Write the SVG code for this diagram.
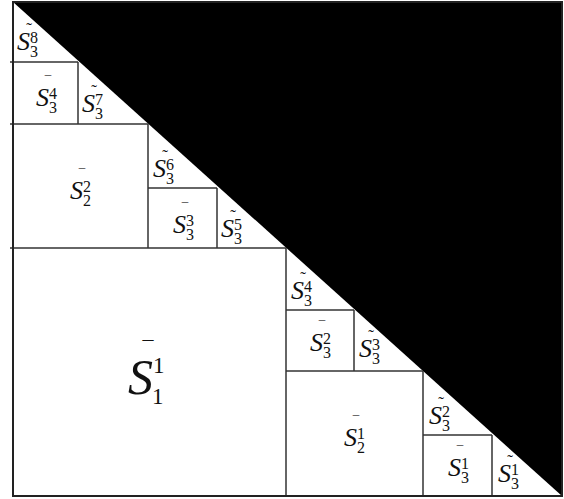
<svg xmlns="http://www.w3.org/2000/svg" width="564" height="499" viewBox="0 0 564 499">
<style>
.ln{stroke:#333;stroke-width:1.5;fill:none}
.lbl{font-family:"Liberation Serif","Times New Roman",serif;fill:#111}
.s{font-style:italic;font-size:26px}
.d{font-size:16px}
.t{font-size:17px;text-anchor:middle}
.b{font-size:13px;text-anchor:middle}
</style>
<rect width="564" height="499" fill="#fff"/>
<g id="black-triangle">
<polygon points="13,2 562,2 562,496" fill="#000"/>
</g>
<g id="connectors">
<line class="ln" x1="10" y1="62" x2="78" y2="62"/>
<line class="ln" x1="78" y1="62" x2="78" y2="124"/>
<line class="ln" x1="10" y1="124" x2="148" y2="124"/>
<line class="ln" x1="148" y1="124" x2="148" y2="248"/>
<line class="ln" x1="148" y1="188" x2="217" y2="188"/>
<line class="ln" x1="217" y1="188" x2="217" y2="248"/>
<line class="ln" x1="10" y1="248" x2="286" y2="248"/>
<line class="ln" x1="286" y1="248" x2="286" y2="496"/>
<line class="ln" x1="286" y1="310" x2="354" y2="310"/>
<line class="ln" x1="354" y1="310" x2="354" y2="371"/>
<line class="ln" x1="286" y1="371" x2="423" y2="371"/>
<line class="ln" x1="423" y1="371" x2="423" y2="496"/>
<line class="ln" x1="423" y1="435" x2="492" y2="435"/>
<line class="ln" x1="492" y1="435" x2="492" y2="496"/>
<rect x="13" y="2" width="549" height="494" fill="none" stroke="#222" stroke-width="2"/>
</g>
<g id="n-S3-8"><text class="lbl"><tspan class="t" x="29" y="34">˜</tspan><tspan class="s" x="17" y="50">S</tspan><tspan class="d" x="30" y="43">8</tspan><tspan class="d" x="30" y="57">3</tspan></text></g>
<g id="n-S3-4bar"><text class="lbl"><tspan class="b" x="48" y="85">¯</tspan><tspan class="s" x="36" y="106">S</tspan><tspan class="d" x="49" y="99">4</tspan><tspan class="d" x="49" y="113">3</tspan></text></g>
<g id="n-S3-7"><text class="lbl"><tspan class="t" x="94" y="96">˜</tspan><tspan class="s" x="82" y="112">S</tspan><tspan class="d" x="95" y="105">7</tspan><tspan class="d" x="95" y="119">3</tspan></text></g>
<g id="n-S2-2bar"><text class="lbl"><tspan class="b" x="82" y="178">¯</tspan><tspan class="s" x="70" y="199">S</tspan><tspan class="d" x="83" y="192">2</tspan><tspan class="d" x="83" y="206">2</tspan></text></g>
<g id="n-S3-6"><text class="lbl"><tspan class="t" x="165" y="161">˜</tspan><tspan class="s" x="153" y="177">S</tspan><tspan class="d" x="166" y="170">6</tspan><tspan class="d" x="166" y="184">3</tspan></text></g>
<g id="n-S3-3bar"><text class="lbl"><tspan class="b" x="185" y="212">¯</tspan><tspan class="s" x="173" y="233">S</tspan><tspan class="d" x="186" y="226">3</tspan><tspan class="d" x="186" y="240">3</tspan></text></g>
<g id="n-S3-5"><text class="lbl"><tspan class="t" x="233" y="221">˜</tspan><tspan class="s" x="221" y="237">S</tspan><tspan class="d" x="234" y="230">5</tspan><tspan class="d" x="234" y="244">3</tspan></text></g>
<g id="n-S1-1bar"><text class="lbl"><tspan font-size="22" text-anchor="middle" x="148" y="356">¯</tspan><tspan font-style="italic" font-size="50" x="128" y="394">S</tspan><tspan font-size="23" x="153" y="373">1</tspan><tspan font-size="23" x="152" y="404">1</tspan></text></g>
<g id="n-S3-4"><text class="lbl"><tspan class="t" x="303" y="283">˜</tspan><tspan class="s" x="291" y="299">S</tspan><tspan class="d" x="304" y="292">4</tspan><tspan class="d" x="304" y="306">3</tspan></text></g>
<g id="n-S3-2bar"><text class="lbl"><tspan class="b" x="322" y="330">¯</tspan><tspan class="s" x="310" y="351">S</tspan><tspan class="d" x="323" y="344">2</tspan><tspan class="d" x="323" y="358">3</tspan></text></g>
<g id="n-S3-3"><text class="lbl"><tspan class="t" x="371" y="341">˜</tspan><tspan class="s" x="359" y="357">S</tspan><tspan class="d" x="372" y="350">3</tspan><tspan class="d" x="372" y="364">3</tspan></text></g>
<g id="n-S2-1bar"><text class="lbl"><tspan class="b" x="356" y="425">¯</tspan><tspan class="s" x="344" y="446">S</tspan><tspan class="d" x="357" y="439">1</tspan><tspan class="d" x="357" y="453">2</tspan></text></g>
<g id="n-S3-2"><text class="lbl"><tspan class="t" x="441" y="408">˜</tspan><tspan class="s" x="429" y="424">S</tspan><tspan class="d" x="442" y="417">2</tspan><tspan class="d" x="442" y="431">3</tspan></text></g>
<g id="n-S3-1bar"><text class="lbl"><tspan class="b" x="460" y="455">¯</tspan><tspan class="s" x="448" y="476">S</tspan><tspan class="d" x="461" y="469">1</tspan><tspan class="d" x="461" y="483">3</tspan></text></g>
<g id="n-S3-1"><text class="lbl"><tspan class="t" x="510" y="466">˜</tspan><tspan class="s" x="498" y="482">S</tspan><tspan class="d" x="511" y="475">1</tspan><tspan class="d" x="511" y="489">3</tspan></text></g>
</svg>
